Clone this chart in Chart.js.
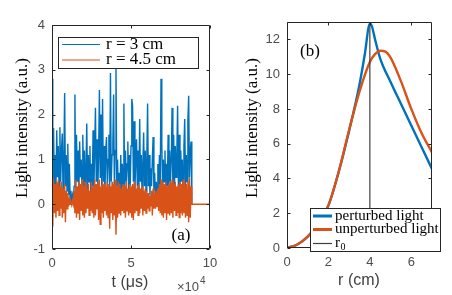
<!DOCTYPE html>
<html>
<head>
<meta charset="utf-8">
<script src="https://cdn.jsdelivr.net/npm/chart.js@4"></script>
<style>
  html, body { margin: 0; padding: 0; background: #fff; }
  #wrap { position: relative; width: 452px; height: 295px; }
  canvas { position: absolute; top: 0; }
  #left { left: 0; }
  #right { left: 226px; }
</style>
</head>
<body>
<div id="wrap">
  <canvas id="left" width="226" height="295"></canvas>
  <canvas id="right" width="226" height="295"></canvas>
</div>
<script>
// panel (a): light signal, t in units of 1e4 us, one sample every dt
const dt = 0.05;
const tEnd = 10;
const signalR3 = [
  2.8, 0.3, 1.7, 0.2, 1.1, 0.4, 1.65, 0.6, 1.3, 0.3,
  1.72, 0.5, 1.2, 1.58, 0.2, 1.0, 2.48, 0.4, 1.1, 0.3,
  1.35, 0.2, 0.9, 0.1, 0.3, 0.0, 0.2, 0.1, 0.4, 2.45,
  0.3, 1.55, 0.5, 1.2, 0.2, 1.4, 0.6, 1.0, 0.3, 1.55,
  0.4, 1.2, 0.2, 0.8, 1.8, 0.3, 1.1, 0.5, 1.3, 0.2,
  0.9, 0.4, 1.65, 0.3, 1.2, 2.15, 0.5, 1.45, 0.3, 1.1,
  2.55, 0.6, 2.0, 0.4, 2.35, 0.5, 1.3, 0.2, 1.2, 1.5,
  0.4, 1.0, 1.55, 0.3, 2.93, 0.5, 1.1, 1.35, 2.45, 0.3,
  1.2, 3.05, 0.4, 1.0, 0.2, 0.7, 0.1, 1.1, 0.3, 0.9,
  0.4, 2.25, 0.3, 1.2, 0.5, 0.9, 1.4, 0.2, 1.1, 0.4,
  1.3, 2.35, 2.2, 0.5, 1.85, 0.3, 1.0, 1.45, 0.4, 1.2,
  0.3, 1.9, 0.5, 1.1, 0.2, 0.9, 1.6, 0.4, 1.2, 0.3,
  1.0, 2.25, 0.4, 1.1, 0.2, 0.8, 0.4, 1.0, 1.5, 0.3,
  0.7, 0.1, 0.5, 0.2, 0.9, 0.3, 1.1, 0.4, 2.8, 1.35,
  0.3, 1.0, 0.5, 1.2, 0.2, 0.9, 0.4, 1.55, 0.3, 1.2,
  0.5, 1.0, 2.15, 0.4, 1.55, 0.3, 1.3, 0.6, 1.1, 2.2,
  0.4, 1.55, 0.3, 1.2, 0.5, 1.0, 0.2, 1.3, 1.9, 0.4,
  1.1, 0.5, 1.85, 2.42, 0.6, 1.2, 1.4, 0
];
const signalR45 = [
  0.6, -0.5, 0.55, -0.2, 0.45, -0.3, 0.5, -0.15, 0.55, -0.25,
  0.4, -0.1, 0.5, -0.3, 0.35, -0.2, 0.45, -0.4, 0.3, -0.1,
  0.25, -0.05, 0.1, 0.0, 0.05, -0.02, 0.08, 0.0, 0.3, -0.2,
  0.55, -0.3, 0.4, -0.2, 0.5, -0.35, 0.45, -0.15, 0.55, -0.25,
  0.4, -0.3, 0.5, -0.2, 0.35, -0.1, 0.45, -0.25, 0.3, -0.15,
  0.5, -0.2, 0.4, -0.3, 0.55, -0.25, 0.45, -0.1, 0.5, -0.35,
  0.55, -0.45, 0.4, -0.2, 0.5, -0.3, 0.45, -0.15, 0.4, -0.25,
  0.5, -0.3, 0.45, -0.55, 0.4, -0.2, 0.5, -0.35, 0.45, -0.25,
  0.55, -0.68, 0.4, -0.3, 0.5, -0.2, 0.45, -0.25, 0.35, -0.15,
  0.45, -0.2, 0.4, -0.3, 0.5, -0.15, 0.35, -0.25, 0.45, -0.2,
  0.4, -0.3, 0.45, -0.35, 0.5, -0.2, 0.35, -0.15, 0.4, -0.25,
  0.45, -0.2, 0.35, -0.1, 0.4, -0.25, 0.3, -0.15, 0.35, -0.2,
  0.3, -0.1, 0.25, -0.15, 0.2, -0.05, 0.3, -0.25, 0.35, -0.1,
  0.25, -0.1, 0.3, -0.05, 0.35, -0.15, 0.45, -0.2, 0.55, -0.25,
  0.5, -0.3, 0.45, -0.2, 0.5, -0.35, 0.4, -0.2, 0.45, -0.25,
  0.5, -0.2, 0.55, -0.3, 0.45, -0.15, 0.5, -0.25, 0.4, -0.2,
  0.45, -0.3, 0.5, -0.2, 0.45, -0.25, 0.55, -0.2, 0.5, -0.3,
  0.45, -0.25, 0.5, -0.4, 0.6, -0.3, 0.4, 0
];

// panel (b): radial light profiles
const rPerturbed = [0, 0.5, 1, 1.5, 2, 2.5, 3, 3.5, 3.75, 4, 4.1, 4.25, 4.5, 5, 5.5, 6, 6.5, 7];
const perturbed = [0, 0.2, 0.65, 1.4, 2.45, 4.4, 6.75, 9.4, 11.1, 12.9, 12.75, 12.0, 10.9, 9.55, 8.3, 7.05, 5.8, 4.55];
const rUnperturbed = [0, 0.5, 1, 1.5, 2, 2.5, 3, 3.5, 4, 4.25, 4.5, 4.75, 5, 5.5, 6, 6.5, 7];
const unperturbed = [0, 0.2, 0.65, 1.4, 2.45, 4.4, 6.8, 9.0, 10.7, 11.15, 11.35, 11.3, 10.95, 9.6, 8.0, 6.6, 5.5];
const r0 = 4;

const blue = '#0072BD';
const orange = '#D95319';
const axisGray = '#262626';
const tickGray = '#4d4d4d';
const serif = "'Liberation Serif', 'Times New Roman', serif";
const sans = "'Liberation Sans', Arial, sans-serif";

function sampled(values, step) {
    return values.map((v, i) => ({ x: i * step, y: v }));
}
function pairs(xs, ys) {
    return xs.map((x, i) => ({ x: x, y: ys[i] }));
}

// MATLAB-like box with inward ticks, legend box and free text
const matlabAxes = {
    id: 'matlabAxes',
    afterDatasetsDraw(chart) {
        const { ctx, chartArea: a } = chart;
        const xs = chart.scales.x, ys = chart.scales.y;
        const L = Math.round(a.left) + 0.5, R = Math.round(a.right) - 0.5;
        const T = Math.round(a.top) + 0.5, B = Math.round(a.bottom) - 0.5;
        ctx.save();
        ctx.strokeStyle = axisGray;
        ctx.lineWidth = 1;
        ctx.beginPath();
        xs.ticks.forEach(t => {
            const px = Math.round(xs.getPixelForValue(t.value)) + 0.5;
            ctx.moveTo(px, B); ctx.lineTo(px, B - 3);
            ctx.moveTo(px, T); ctx.lineTo(px, T + 3);
        });
        ys.ticks.forEach(t => {
            const py = Math.round(ys.getPixelForValue(t.value)) + 0.5;
            ctx.moveTo(L, py); ctx.lineTo(L + 3, py);
            ctx.moveTo(R, py); ctx.lineTo(R - 3, py);
        });
        ctx.rect(L, T, R - L, B - T);
        ctx.stroke();
        ctx.restore();
    },
    afterDraw(chart, args, opts) {
        const ctx = chart.ctx;
        ctx.save();
        const lg = opts.legend;
        if (lg) {
            ctx.fillStyle = '#fff';
            ctx.fillRect(lg.x, lg.y, lg.w, lg.h);
            ctx.strokeStyle = axisGray;
            ctx.lineWidth = 1;
            ctx.strokeRect(lg.x + 0.5, lg.y + 0.5, lg.w, lg.h);
            ctx.textBaseline = 'middle';
            chart.data.datasets.forEach((d, i) => {
                const cy = lg.rows[i];
                ctx.strokeStyle = d.borderColor;
                ctx.lineWidth = d.legendWidth;
                ctx.beginPath();
                ctx.moveTo(lg.lineX[0], cy);
                ctx.lineTo(lg.lineX[1], cy);
                ctx.stroke();
                ctx.fillStyle = '#000';
                ctx.font = lg.size + 'px ' + serif;
                ctx.fillText(d.label, lg.textX, cy);
                if (d.labelSub) {
                    const w = ctx.measureText(d.label).width;
                    ctx.font = Math.round(lg.size * 0.68) + 'px ' + serif;
                    ctx.fillText(d.labelSub, lg.textX + w + 0.5, cy + 4);
                }
            });
        }
        (opts.notes || []).forEach(n => {
            ctx.save();
            ctx.font = n.font;
            ctx.fillStyle = n.color || '#000';
            ctx.textBaseline = 'middle';
            ctx.textAlign = n.align || 'center';
            ctx.translate(n.x, n.y);
            if (n.rotate) ctx.rotate(n.rotate);
            ctx.fillText(n.text, 0, 0);
            if (n.sup) {
                const w = ctx.measureText(n.text).width;
                ctx.font = n.supFont;
                ctx.textAlign = 'left';
                ctx.fillText(n.sup, w + 1, -6);
            }
            ctx.restore();
        });
        ctx.restore();
    }
};

function tickFont() {
    return { family: sans, size: 13 };
}

new Chart(document.getElementById('left'), {
    type: 'line',
    data: {
        datasets: [{
            label: 'r = 3 cm',
            data: sampled(signalR3, dt),
            borderColor: blue,
            borderWidth: 1.4,
            legendWidth: 1.2,
            pointRadius: 0,
            order: 2
        }, {
            label: 'r = 4.5 cm',
            data: sampled(signalR45, dt).concat([{ x: tEnd, y: 0 }]),
            borderColor: orange,
            borderWidth: 1.4,
            legendWidth: 1.2,
            pointRadius: 0,
            order: 1
        }]
    },
    options: {
        responsive: false,
        animation: false,
        events: [],
        layout: { padding: { left: 0, right: 16, top: 25, bottom: 0 } },
        scales: {
            x: {
                type: 'linear',
                min: 0,
                max: tEnd,
                ticks: { stepSize: 5, font: tickFont(), color: tickGray, padding: 7, maxRotation: 0, autoSkip: false },
                grid: { display: false, drawTicks: false },
                border: { display: false },
                afterFit: s => { s.height = 46; }
            },
            y: {
                min: -1,
                max: 4,
                ticks: { stepSize: 1, font: tickFont(), color: tickGray, padding: 7 },
                grid: { display: false, drawTicks: false },
                border: { display: false },
                afterFit: s => { s.width = 52; }
            }
        },
        plugins: {
            legend: { display: false },
            tooltip: { enabled: false },
            matlabAxes: {
                legend: { x: 58, y: 37, w: 140, h: 31, rows: [44.5, 60], lineX: [62, 100], textX: 106, size: 17 },
                notes: [
                    { text: 'Light intensity (a.u.)', x: 23, y: 128, rotate: -Math.PI / 2, font: '17px ' + serif },
                    { text: 't (\u03bcs)', x: 130, y: 283, font: '16px ' + sans, color: '#404040' },
                    { text: '(a)', x: 181, y: 236, font: '17px ' + serif },
                    { text: '\u00d710', x: 177, y: 287, align: 'left', font: '13px ' + sans, color: tickGray, sup: '4', supFont: '10px ' + sans }
                ]
            }
        }
    },
    plugins: [matlabAxes]
});

const evenOnly = s => { s.ticks = s.ticks.filter(t => t.value % 2 === 0); };

new Chart(document.getElementById('right'), {
    type: 'line',
    data: {
        datasets: [{
            label: 'perturbed light',
            data: pairs(rPerturbed, perturbed),
            borderColor: blue,
            borderWidth: 2.4,
            legendWidth: 3,
            cubicInterpolationMode: 'monotone',
            pointRadius: 0,
            order: 3
        }, {
            label: 'unperturbed light',
            data: pairs(rUnperturbed, unperturbed),
            borderColor: orange,
            borderWidth: 2.4,
            legendWidth: 3,
            cubicInterpolationMode: 'monotone',
            pointRadius: 0,
            order: 2
        }, {
            label: 'r',
            labelSub: '0',
            data: [{ x: r0, y: 0 }, { x: r0, y: 13 }],
            borderColor: '#404040',
            borderWidth: 1.2,
            legendWidth: 1.2,
            pointRadius: 0,
            order: 1
        }]
    },
    options: {
        responsive: false,
        animation: false,
        events: [],
        layout: { padding: { left: 0, right: 20, top: 22, bottom: 0 } },
        scales: {
            x: {
                type: 'linear',
                min: 0,
                max: 7,
                afterBuildTicks: evenOnly,
                ticks: { stepSize: 2, font: tickFont(), color: tickGray, padding: 7, maxRotation: 0, autoSkip: false },
                grid: { display: false, drawTicks: false },
                border: { display: false },
                afterFit: s => { s.height = 47; }
            },
            y: {
                min: 0,
                max: 13,
                afterBuildTicks: evenOnly,
                ticks: { stepSize: 2, font: tickFont(), color: tickGray, padding: 7 },
                grid: { display: false, drawTicks: false },
                border: { display: false },
                afterFit: s => { s.width = 61; }
            }
        },
        plugins: {
            legend: { display: false },
            tooltip: { enabled: false },
            matlabAxes: {
                legend: { x: 84, y: 208, w: 130, h: 43, rows: [216, 229.5, 243.5], lineX: [87, 106], textX: 109, size: 15 },
                notes: [
                    { text: 'Light intensity (a.u.)', x: 27, y: 128, rotate: -Math.PI / 2, font: '17px ' + serif },
                    { text: 'r (cm)', x: 133, y: 281, font: '16px ' + sans, color: '#404040' },
                    { text: '(b)', x: 84, y: 52, font: '17px ' + serif }
                ]
            }
        }
    },
    plugins: [matlabAxes]
});
</script>
</body>
</html>
